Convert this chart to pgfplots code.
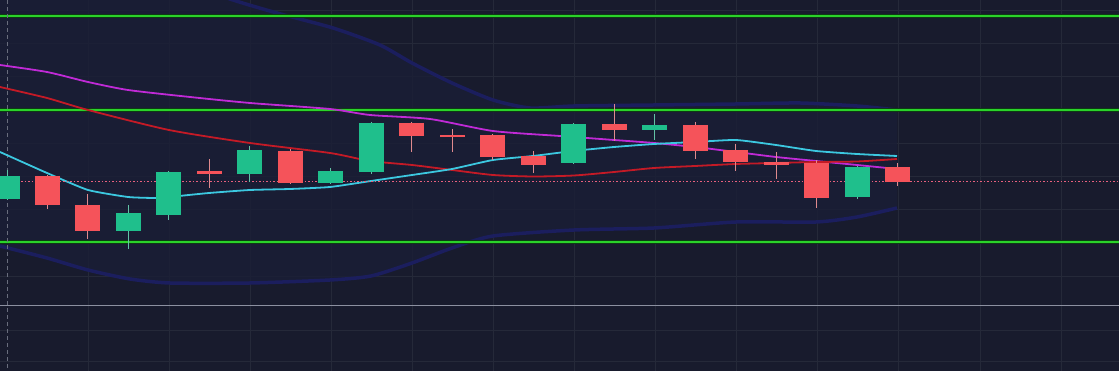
\documentclass[border=0pt]{standalone}
\usepackage{pgfplots}
\pgfplotsset{compat=1.18}
\usepackage{pgfplotstable}
\usepgfplotslibrary{fillbetween}
\definecolor{bg}{HTML}{181B2D}
\definecolor{gridc}{HTML}{252939}
\definecolor{gline}{HTML}{2AD32A}
\definecolor{gglow}{HTML}{0E3A14}
\definecolor{mag}{HTML}{C02AD6}
\definecolor{dred}{HTML}{C41A26}
\definecolor{cyanl}{HTML}{3CC8E0}
\definecolor{bandl}{HTML}{1B1E5E}
\definecolor{bandf}{HTML}{1A1E36}
\definecolor{cgreen}{HTML}{1FBF8C}
\definecolor{cred}{HTML}{F5535A}
\definecolor{wred}{HTML}{E08A8E}
\definecolor{wgreen}{HTML}{62C2A6}
\definecolor{grayl}{HTML}{8C90A0}
\definecolor{dotl}{HTML}{E8607E}

% candle bodies (pixel y of open/close), separated by nan
\pgfplotstableread{
x y
7 199
7 176
nan nan
128.5 231
128.5 213
nan nan
168.5 215
168.5 172
nan nan
249.5 174
249.5 150
nan nan
330.5 183
330.5 171
nan nan
371 172
371 123
nan nan
573 163
573 124
nan nan
654 130
654 125
nan nan
857 197
857 167
}\greenbody
\pgfplotstableread{
x y
7 170
7 200
nan nan
128.5 205
128.5 249
nan nan
168.5 171
168.5 220
nan nan
249.5 146
249.5 182
nan nan
330.5 168
330.5 184
nan nan
371 122
371 174
nan nan
573 123
573 164
nan nan
654 114
654 140
nan nan
857 166
857 199
}\greenwick
\pgfplotstableread{
x y
47.5 176
47.5 205
nan nan
87.5 205
87.5 231
nan nan
209.5 171
209.5 174
nan nan
290 151
290 183
nan nan
411.5 123
411.5 136
nan nan
452 135
452 137.5
nan nan
492 135
492 157
nan nan
533 156
533 165
nan nan
614 124
614 130
nan nan
695 125
695 151
nan nan
735 150
735 162
nan nan
776 162
776 165
nan nan
816 163
816 198
nan nan
897 167
897 182
}\redbody
\pgfplotstableread{
x y
47.5 175
47.5 209
nan nan
87.5 194
87.5 239
nan nan
209.5 159
209.5 188
nan nan
290 149
290 184
nan nan
411.5 122
411.5 152
nan nan
452 129
452 152
nan nan
492 134
492 160
nan nan
533 151
533 173
nan nan
614 104
614 141
nan nan
695 122
695 159
nan nan
735 144
735 171
nan nan
776 152
776 179
nan nan
816 160
816 208
nan nan
897 163
897 186
}\redwick

\begin{document}
\begin{tikzpicture}
\begin{axis}[
  name=main,
  scale only axis, width=1119pt, height=371pt,
  xmin=0, xmax=1119, ymin=0, ymax=371, y dir=reverse,
  axis line style={draw=none},
  axis background/.style={fill=bg},
  xtick={88,169,250,331,412,493,574,655,736,817,898,980,1061},
  ytick={10,43,76,143,176,209,276,330,361},
  xticklabels={}, yticklabels={},
  major tick length=0pt,
  grid=major, grid style={color=gridc, line width=0.8pt},
  clip=true, unbounded coords=jump,
]
% band
\addplot[name path=up, bandl, line width=3.5pt, smooth, tension=0.4] coordinates {
(0,-70) (90,-50) (170,-22) (233,0) (277,13) (333,28) (380,45) (412,63) (452,83) (493,100) (530,108) (574,106) (654,105) (736,104) (800,103) (857,106) (897,110)};
\addplot[name path=lo, bandl, line width=3.5pt, smooth, tension=0.4] coordinates {
(0,246) (47,258) (88,270) (130,279) (170,283) (250,283) (330,280) (371,276) (412,263) (452,248) (493,236) (574,230) (654,228) (736,222) (816,222) (857,217) (897,208)};
\addplot[bandf, opacity=0.8] fill between[of=up and lo];
% green levels
\addplot[gglow, line width=4pt] coordinates {(0,16) (1119,16)};
\addplot[gline, line width=1.7pt] coordinates {(0,16) (1119,16)};
\addplot[gglow, line width=4pt] coordinates {(0,110) (1119,110)};
\addplot[gline, line width=1.7pt] coordinates {(0,110) (1119,110)};
\addplot[gglow, line width=4pt] coordinates {(0,242) (1119,242)};
\addplot[gline, line width=1.7pt] coordinates {(0,242) (1119,242)};
% pane separator and vertical dashed
\addplot[grayl, line width=1pt] coordinates {(0,306) (1119,306)};
\addplot[grayl!70!bg, line width=0.8pt, dash pattern=on 4pt off 3pt] coordinates {(7,0) (7,371)};
% moving averages
\addplot[mag, line width=1.8pt, smooth, tension=0.4] coordinates {
(0,65) (47,72) (88,82) (128,90) (190,97) (250,103) (330,109) (370,115) (430,119) (493,131) (560,136) (614,140) (654,143) (695,147) (736,152) (776,157) (816,161) (857,165) (897,169)};
\addplot[dred, line width=1.8pt, smooth, tension=0.4] coordinates {
(0,87) (47,98) (88,110) (169,130) (250,143) (330,153) (370,161) (412,165) (452,170) (493,175) (533,176.5) (574,175.5) (614,172) (654,168) (695,166) (736,164) (776,163) (816,162) (857,161.5) (897,159)};
\addplot[cyanl, line width=1.8pt, smooth, tension=0.3] coordinates {
(0,152) (47,173) (88,190) (128,197) (155,198) (169,197) (209,193) (250,190) (290,189) (330,187) (371,181) (412,175) (452,169) (493,160) (533,156) (573,151) (614,147) (654,144) (695,142) (736,140) (776,145) (816,151) (857,154) (897,156)};
% last price dotted
\addplot[dotl, line width=0.8pt, dash pattern=on 1.5pt off 2pt] coordinates {(0,181) (1119,181)};
% candles
\addplot[wgreen, line width=1pt] table[x=x,y=y]{\greenwick};
\addplot[wred, line width=1pt] table[x=x,y=y]{\redwick};
\addplot[cgreen, line width=25pt, line cap=butt] table[x=x,y=y]{\greenbody};
\addplot[cred, line width=25pt, line cap=butt] table[x=x,y=y]{\redbody};
\end{axis}
\pgfresetboundingbox
\useasboundingbox (main.south west) rectangle (main.north east);
\end{tikzpicture}
\end{document}
